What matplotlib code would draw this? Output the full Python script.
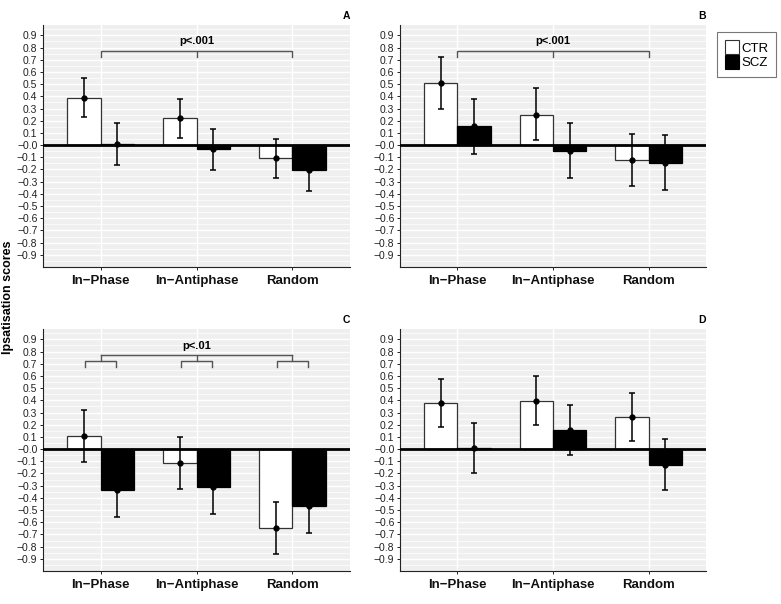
import matplotlib

matplotlib.use("Agg")
import matplotlib.pyplot as plt
import numpy as np
from matplotlib.patches import Patch

plt.rcParams["font.family"] = ["Liberation Sans", "DejaVu Sans"]

conditions = ["In\u2212Phase", "In\u2212Antiphase", "Random"]
groups = ["CTR", "SCZ"]
panel_labels = ["A", "B", "C", "D"]

ctr_a = [0.39, 0.22, -0.11]
ctr_a_lo = [0.23, 0.06, -0.27]
ctr_a_hi = [0.55, 0.38, 0.05]
scz_a = [0.01, -0.035, -0.205]
scz_a_lo = [-0.16, -0.205, -0.375]
scz_a_hi = [0.18, 0.13, -0.035]

ctr_b = [0.51, 0.25, -0.12]
ctr_b_lo = [0.30, 0.04, -0.335]
ctr_b_hi = [0.725, 0.465, 0.09]
scz_b = [0.155, -0.048, -0.15]
scz_b_lo = [-0.07, -0.273, -0.372]
scz_b_hi = [0.38, 0.178, 0.079]

ctr_c = [0.105, -0.118, -0.644]
ctr_c_lo = [-0.105, -0.33, -0.857]
ctr_c_hi = [0.322, 0.096, -0.43]
scz_c = [-0.335, -0.312, -0.463]
scz_c_lo = [-0.559, -0.534, -0.685]
scz_c_hi = [-0.115, -0.094, -0.241]

ctr_d = [0.376, 0.398, 0.265]
ctr_d_lo = [0.183, 0.2, 0.065]
ctr_d_hi = [0.573, 0.597, 0.458]
scz_d = [0.01, 0.158, -0.128]
scz_d_lo = [-0.196, -0.05, -0.333]
scz_d_hi = [0.215, 0.365, 0.08]

p_labels = ["p<.001", "p<.001", "p<.01", None]

panels = [
    (ctr_a, ctr_a_lo, ctr_a_hi, scz_a, scz_a_lo, scz_a_hi),
    (ctr_b, ctr_b_lo, ctr_b_hi, scz_b, scz_b_lo, scz_b_hi),
    (ctr_c, ctr_c_lo, ctr_c_hi, scz_c, scz_c_lo, scz_c_hi),
    (ctr_d, ctr_d_lo, ctr_d_hi, scz_d, scz_d_lo, scz_d_hi),
]

W, H = 781, 604
fig = plt.figure(figsize=(W / 100, H / 100), dpi=100)

# pixel boxes (left, top, right, bottom)
boxes = [(43, 25, 350, 267), (400, 25, 706, 267), (43, 329, 350, 571), (400, 329, 706, 571)]

x = np.arange(1, 4)
bw = 0.35
bracket_col = "#555555"

for i, (box, data) in enumerate(zip(boxes, panels)):
    l, t, r, b = box
    ax = fig.add_axes([l / W, 1 - b / H, (r - l) / W, (b - t) / H])
    ctr, ctr_lo, ctr_hi, scz, scz_lo, scz_hi = data
    ax.set_facecolor("#EFEFEF")
    ax.set_xlim(0.4, 3.6)
    ax.set_ylim(-1.0, 0.985)

    yt = np.round(np.arange(-0.9, 0.91, 0.1), 1)
    ax.set_yticks(yt)
    ax.set_yticks(np.round(np.arange(-0.95, 0.96, 0.1), 2), minor=True)
    ax.set_yticklabels([f"{v:.1f}".replace("-", "\u2212") for v in yt], fontsize=7.5, color="#222222")
    ax.set_xticks(x)
    ax.set_xticklabels(conditions, fontsize=9.5, fontweight="bold", color="#111111")
    ax.tick_params(axis="y", which="major", length=2.5, width=0.6, pad=1.5)
    ax.tick_params(axis="y", which="minor", length=0)
    ax.tick_params(axis="x", length=2.5, width=0.6, pad=3)
    ax.grid(True, axis="y", which="major", color="white", lw=1.0)
    ax.grid(True, axis="y", which="minor", color="white", lw=0.5)
    ax.grid(True, axis="x", which="major", color="white", lw=1.0)
    ax.set_axisbelow(True)
    for s in ["top", "right"]:
        ax.spines[s].set_visible(False)
    for s in ["left", "bottom"]:
        ax.spines[s].set_linewidth(0.8)
        ax.spines[s].set_color("#222222")

    xc = x - bw / 2
    xs = x + bw / 2
    ax.bar(xc, ctr, width=bw, color="white", edgecolor="#333333", lw=0.9, zorder=2)
    ax.bar(xs, scz, width=bw, color="black", edgecolor="black", lw=0.9, zorder=2)
    ax.axhline(0, color="black", lw=2, zorder=3)
    for xx, m, lo, hi in [(xc, ctr, ctr_lo, ctr_hi), (xs, scz, scz_lo, scz_hi)]:
        m = np.array(m)
        err = [m - np.array(lo), np.array(hi) - m]
        ax.errorbar(xx, m, yerr=err, fmt="o", color="black", ms=3.5, elinewidth=1.1,
                    capsize=2.5, capthick=1.1, zorder=4)

    if i in (0, 1):
        ax.plot([1, 1, 3, 3], [0.725, 0.77, 0.77, 0.725], color=bracket_col, lw=1, zorder=3)
        ax.plot([2, 2], [0.77, 0.725], color=bracket_col, lw=1, zorder=3)
        ax.text(2, 0.85, p_labels[i], ha="center", va="center", fontsize=8, fontweight="bold")
    elif i == 2:
        ax.plot([1, 3], [0.77, 0.77], color=bracket_col, lw=1, zorder=3)
        for c in x:
            ax.plot([c, c], [0.77, 0.722], color=bracket_col, lw=1, zorder=3)
            ax.plot([c - 0.16, c - 0.16, c + 0.16, c + 0.16], [0.672, 0.722, 0.722, 0.672],
                    color=bracket_col, lw=1, zorder=3)
        ax.text(2, 0.845, p_labels[i], ha="center", va="center", fontsize=8, fontweight="bold")

    fig.text((r - 4) / W, 1 - (t - 9) / H, panel_labels[i], ha="center", va="center",
             fontsize=7.5, fontweight="bold")

fig.text(8 / W, 1 - 297 / H, "Ipsatisation scores", rotation=90, ha="center", va="center",
         fontsize=9, fontweight="bold")

handles = [Patch(facecolor="white", edgecolor="#333333", lw=0.8),
           Patch(facecolor="black", edgecolor="black", lw=0.8)]
leg = fig.legend(handles, groups, loc="upper left", bbox_to_anchor=(717 / W, 1 - 32 / H),
                 fontsize=9.5, frameon=True, fancybox=False, edgecolor="#555555",
                 handlelength=1.1, handleheight=1.3, handletextpad=0.15, labelspacing=0.0,
                 borderpad=0.6, borderaxespad=0)
leg.get_frame().set_linewidth(0.8)

fig.savefig("out.png", dpi=100)
